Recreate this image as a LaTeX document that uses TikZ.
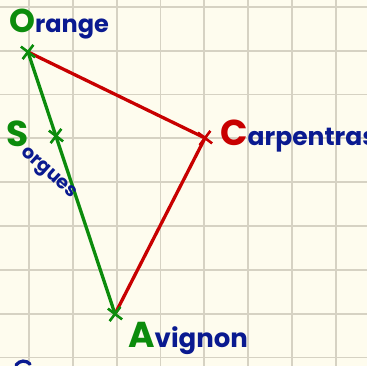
\documentclass[tikz,border=0pt]{standalone}
\usepackage{fontspec}
\setmainfont{Poppins}
\usetikzlibrary{shapes.misc}
\definecolor{bgcol}{HTML}{FEFCEE}
\definecolor{gridcol}{HTML}{D6D2C3}
\definecolor{cgreen}{HTML}{0C8C0C}
\definecolor{cred}{HTML}{C80000}
\definecolor{cblue}{HTML}{0A1A90}
\tikzset{
  road/.style={line width=3.3pt, line cap=round},
  cityx/.style={cross out, draw, line width=2.6pt, minimum size=10pt, inner sep=0pt, rotate=8},
  lab/.style={inner sep=0pt, anchor=base west},
}
\begin{document}
\begin{tikzpicture}[x=1pt,y=-1pt]
\useasboundingbox[fill=bgcol] (0,0) rectangle (367,366);
% grid
\foreach \i in {0,...,7} \draw[gridcol, line width=1.8pt] (29+43.8*\i,0) -- (29+43.8*\i,366);
\foreach \j in {0,...,8} \draw[gridcol, line width=1.8pt] (0,7+43.8*\j) -- (367,7+43.8*\j);
% city points
\coordinate (orange) at (28,52);
\coordinate (sorgues) at (56,136);
\coordinate (carp) at (205,138);
\coordinate (avignon) at (115,314);
% roads
\draw[road, cred] (orange) -- (carp);
\draw[road, cred] (carp) -- (avignon);
\draw[road, cgreen] (orange) -- (avignon);
% crosses
\node[cityx, cgreen] (xo) at (orange) {};
\node[cityx, cgreen] (xs) at (sorgues) {};
\node[cityx, cred] (xc) at (carp) {};
\node[cityx, cgreen] (xa) at (avignon) {};
% labels
\node[lab] (lo) at (9,33) {\textcolor{cgreen}{\fontsize{33}{33}\selectfont\bfseries O}\textcolor{cblue}{\fontsize{24}{24}\selectfont\bfseries range}};
\node[lab] (lc) at (220,146) {\textcolor{cred}{\fontsize{36}{36}\selectfont\bfseries C}\textcolor{cblue}{\fontsize{25}{25}\selectfont\bfseries arpentras}};
\node[lab] (la) at (128,347) {\textcolor{cgreen}{\fontsize{36}{36}\selectfont\bfseries A}\textcolor{cblue}{\fontsize{26}{26}\selectfont\bfseries vignon}};
\node[lab] (ls) at (6,147) {\textcolor{cgreen}{\fontsize{36}{36}\selectfont\bfseries S}};
\node[inner sep=0pt, rotate=-42, text=cblue, font=\fontsize{19}{19}\selectfont\bfseries] (lso) at (48,174) {orgues};
% partial blue stroke at bottom edge
\draw[cblue, line width=3.3pt, line cap=round] (16,365) .. controls (20,360) and (26,360) .. (30,364);
\end{tikzpicture}
\end{document}
